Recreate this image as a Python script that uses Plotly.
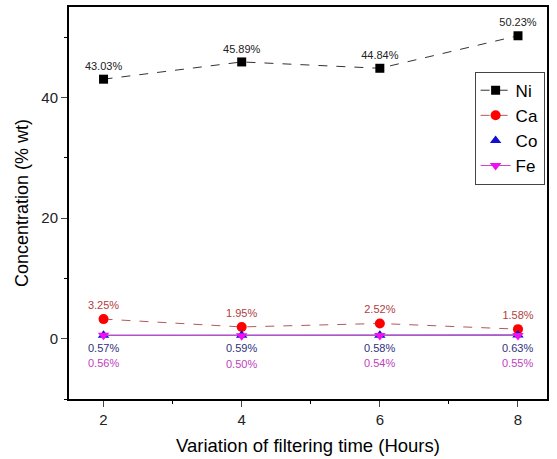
import plotly.graph_objects as go

hours = [2, 4, 6, 8]
ni = [43.03, 45.89, 44.84, 50.23]
ca = [3.25, 1.95, 2.52, 1.58]
co = [0.57, 0.59, 0.58, 0.63]
fe = [0.56, 0.50, 0.54, 0.55]

def lbl(v):
    return [f"{x:.2f}%" for x in v]

fig = go.Figure()
fnt = "Arial, Liberation Sans, sans-serif"

fig.add_trace(go.Scatter(x=hours, y=ni, name="Ni", mode="lines+markers+text",
    line=dict(color="#333333", width=1, dash="dash"),
    marker=dict(symbol="square", size=9, color="black"),
    text=lbl(ni), textposition="top center",
    textfont=dict(size=11, color="#222222", family=fnt)))
fig.add_trace(go.Scatter(x=hours, y=ca, name="Ca", mode="lines+markers+text",
    line=dict(color="#b05a5a", width=1, dash="dash"),
    marker=dict(symbol="circle", size=10, color="red"),
    text=lbl(ca), textposition="top center",
    textfont=dict(size=11, color="#b04040", family=fnt)))
fig.add_trace(go.Scatter(x=hours, y=co, name="Co", mode="lines", showlegend=False,
    line=dict(color="#4040a0", width=1)))
fig.add_trace(go.Scatter(x=hours, y=co, name="Co", mode="markers",
    marker=dict(symbol="triangle-up", size=10, color="#1010d0")))
fig.add_trace(go.Scatter(x=hours, y=fe, name="Fe", mode="lines+markers",
    line=dict(color="#d040d0", width=1),
    marker=dict(symbol="triangle-down", size=10, color="#ee10ee")))

for xv, yv, t in zip(hours, co, lbl(co)):
    fig.add_annotation(x=xv, y=yv, text=t, showarrow=False, yshift=-13,
                       font=dict(size=11, color="#303080", family=fnt))
for xv, yv, t in zip(hours, fe, lbl(fe)):
    fig.add_annotation(x=xv, y=yv, text=t, showarrow=False, yshift=-28,
                       font=dict(size=11, color="#c040c0", family=fnt))

fig.update_layout(
    width=557, height=459,
    margin=dict(l=69, r=10, t=5, b=60),
    paper_bgcolor="white", plot_bgcolor="white",
    font=dict(family=fnt, color="black"),
    legend=dict(x=0.995, y=0.835, xanchor="right", yanchor="top",
                bordercolor="#444444", borderwidth=1, bgcolor="white",
                font=dict(size=17, family=fnt), tracegroupgap=0,
                itemwidth=30),
    showlegend=True,
)
fig.update_xaxes(range=[1.5, 8.42], tickvals=hours, ticks="outside", ticklen=6,
    showline=True, linecolor="black", linewidth=2, mirror=True, showgrid=False,
    zeroline=False, tickfont=dict(size=15, color="#222222"),
    minor=dict(tickvals=[3, 5, 7], ticks="outside", ticklen=3, tickcolor="black"),
    title=dict(text="Variation of filtering time (Hours)", font=dict(size=18.5), standoff=12))
fig.update_yaxes(range=[-10, 55], tickvals=[0, 20, 40], ticks="outside", ticklen=6,
    showline=True, linecolor="black", linewidth=2, mirror=True, showgrid=False,
    zeroline=False, tickfont=dict(size=15, color="#222222"),
    minor=dict(tickvals=[-10, 10, 30, 50], ticks="outside", ticklen=3, tickcolor="black"),
    title=dict(text="Concentration (% wt)", font=dict(size=18), standoff=8))

fig.write_html("out.html")
